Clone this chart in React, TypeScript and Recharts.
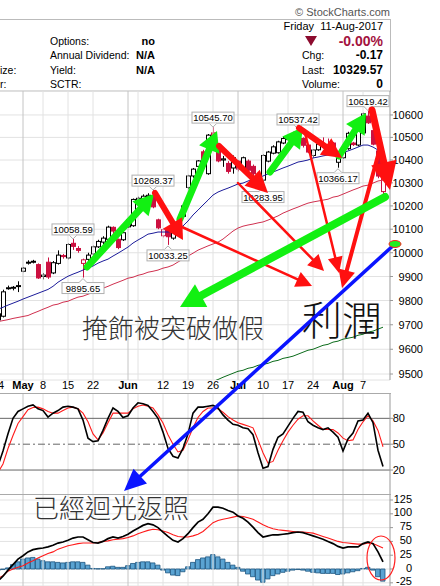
import React from "react";
import {
  ComposedChart,
  Bar,
  Line,
  XAxis,
  YAxis,
  CartesianGrid,
  ReferenceLine,
  ReferenceDot,
} from "recharts";

// trading days shown on the chart
const DATES = [
  "Apr 24", "Apr 25", "Apr 26", "Apr 27", "Apr 28", "May 2", "May 3", "May 4", "May 5", "May 8",
  "May 9", "May 10", "May 11", "May 12", "May 15", "May 16", "May 17", "May 18", "May 19", "May 22",
  "May 23", "May 24", "May 25", "May 26", "May 29", "May 31", "Jun 1", "Jun 2", "Jun 5", "Jun 6",
  "Jun 7", "Jun 8", "Jun 9", "Jun 12", "Jun 13", "Jun 14", "Jun 15", "Jun 16", "Jun 19", "Jun 20",
  "Jun 21", "Jun 22", "Jun 23", "Jun 26", "Jun 27", "Jun 28", "Jun 29", "Jun 30", "Jul 3", "Jul 4",
  "Jul 5", "Jul 6", "Jul 7", "Jul 10", "Jul 11", "Jul 12", "Jul 13", "Jul 14", "Jul 17", "Jul 18",
  "Jul 19", "Jul 20", "Jul 21", "Jul 24", "Jul 25", "Jul 26", "Jul 27", "Jul 28", "Jul 31", "Aug 1",
  "Aug 2", "Aug 3", "Aug 4", "Aug 7", "Aug 8", "Aug 9", "Aug 10", "Aug 11",
];

const OPEN = [
  9720, 9735, 9850, 9852, 9858, 9922, 9956, 9962, 9950, 9900,
  9960, 9915, 9955, 9988, 9978, 10040, 10018, 9955, 9972, 9995,
  10025, 10045, 10057, 10108, 10057, 10055, 10110, 10115, 10225, 10230,
  10240, 10243, 10140, 10072, 10100, 10062, 10080, 10155, 10280, 10330,
  10372, 10436, 10340, 10520, 10458, 10400, 10385, 10365, 10395, 10365,
  10395, 10372, 10330, 10312, 10395, 10430, 10432, 10475, 10490, 10500,
  10520, 10495, 10466, 10420, 10445, 10468, 10455, 10475, 10390, 10410,
  10450, 10475, 10466, 10520, 10595, 10530, 10440, 10262,
];
const HIGH = [
  9760, 9845, 9862, 9860, 9880, 9940, 9968, 9970, 9955, 9915,
  9980, 9965, 10010, 9995, 10040, 10058.59, 10028, 9975, 10000, 10030,
  10055, 10070, 10115, 10112, 10060, 10090, 10145, 10232, 10240, 10250,
  10255, 10268.37, 10145, 10105, 10104, 10092, 10118, 10205, 10335, 10365,
  10400, 10445, 10515, 10545.7, 10465, 10418, 10395, 10420, 10400, 10415,
  10402, 10380, 10340, 10425, 10440, 10465, 10485, 10505, 10515, 10525,
  10537.42, 10500, 10470, 10448, 10480, 10500, 10495, 10480, 10432, 10440,
  10525, 10480, 10535, 10610, 10619.42, 10535, 10442, 10335,
];
const LOW = [
  9700, 9730, 9845, 9842, 9835, 9918, 9950, 9955, 9890, 9888,
  9890, 9910, 9950, 9975, 9972, 10012, 10000, 9895.65, 9962, 9990,
  10020, 10035, 10050, 10065, 10015, 10050, 10105, 10110, 10210, 10218,
  10228, 10190, 10100, 10065, 10033.25, 10055, 10075, 10150, 10272, 10322,
  10365, 10378, 10335, 10498, 10390, 10370, 10340, 10340, 10350, 10360,
  10345, 10330, 10295, 10283.95, 10390, 10425, 10428, 10470, 10485, 10495,
  10500, 10455, 10430, 10410, 10440, 10450, 10440, 10420, 10366.17, 10405,
  10445, 10462, 10460, 10515, 10560, 10465, 10320, 10250,
];
const CLOSE = [
  9745, 9836, 9853, 9855, 9862, 9935, 9960, 9964, 9894, 9906,
  9898, 9958, 9990, 9984, 10035, 10027, 10010, 9970, 9990, 10025,
  10048, 10062, 10109, 10092, 10022, 10085, 10140, 10228, 10233, 10242,
  10246, 10196, 10106, 10098, 10068, 10086, 10112, 10200, 10330, 10360,
  10396, 10386, 10510, 10505, 10396, 10405, 10350, 10410, 10360, 10410,
  10355, 10340, 10305, 10420, 10435, 10458, 10480, 10495, 10505, 10515,
  10510, 10465, 10435, 10444, 10470, 10460, 10445, 10422, 10425, 10435,
  10518, 10468, 10530, 10605, 10565, 10470, 10329.74, 10329.57,
];

// moving averages
const MA_BLUE = [
  9764, 9772, 9781, 9789, 9797, 9806, 9814, 9822, 9830, 9838,
  9846, 9859, 9876, 9889, 9901, 9910, 9918, 9927, 9935, 9944,
  9956, 9965, 9973, 9986, 9998, 10011, 10024, 10041, 10054, 10066,
  10079, 10083, 10088, 10088, 10088, 10092, 10101, 10114, 10135, 10161,
  10182, 10204, 10225, 10247, 10260, 10269, 10277, 10286, 10295, 10299,
  10308, 10317, 10321, 10330, 10339, 10347, 10356, 10365, 10373, 10382,
  10391, 10395, 10400, 10409, 10413, 10418, 10422, 10422, 10426, 10431,
  10440, 10448, 10457, 10466, 10466, 10457, 10444, 10426,
];
const MA_RED = [
  9713, 9717, 9721, 9726, 9730, 9734, 9738, 9747, 9755, 9764,
  9772, 9781, 9785, 9793, 9797, 9806, 9814, 9818, 9826, 9834,
  9842, 9851, 9859, 9868, 9876, 9884, 9893, 9897, 9905, 9910,
  9918, 9922, 9927, 9935, 9940, 9948, 9961, 9973, 9986, 9998,
  10011, 10020, 10029, 10037, 10045, 10058, 10075, 10092, 10105, 10113,
  10118, 10122, 10127, 10131, 10139, 10148, 10157, 10169, 10178, 10187,
  10195, 10204, 10212, 10217, 10221, 10225, 10229, 10238, 10242, 10251,
  10260, 10269, 10277, 10286, 10290, 10299, 10308, 10312,
];
const MA_GREEN = [
  null, null, null, null, null, null, null, null, null, null,
  null, null, null, null, null, null, null, null, null, null,
  null, null, null, null, null, null, null, null, null, null,
  null, null, null, null, null, null, null, null, null, null,
  9450, 9454, 9462, 9470, 9478, 9487, 9495, 9503, 9511, 9515,
  9523, 9527, 9535, 9539, 9543, 9551, 9555, 9563, 9567, 9572,
  9580, 9588, 9596, 9600, 9608, 9616, 9620, 9629, 9633, 9641,
  9645, 9649, 9657, 9661, 9670, 9674, 9682, 9690,
];

const STO_K = [
  25, 42, 62, 80, 88, 91, 94, 95.5, 91, 89,
  81.5, 86, 89, 93, 94, 93, 91, 78, 57, 53,
  54, 66, 80, 92, 88, 81, 83, 92, 98, 97,
  95, 88, 80, 64, 45, 36, 34, 45, 62, 86,
  93, 93, 94, 95, 92, 84, 78, 73, 72, 69,
  68, 61, 40, 22, 24, 44, 58, 62, 71, 80,
  88, 87, 76, 72, 69, 67, 69, 64, 58, 42,
  56, 63, 77, 78, 86, 75, 43, 24,
];
const STO_D = [
  17, 27, 45, 60, 74, 82, 90, 92.5, 93, 91,
  88, 86, 86, 89, 92, 93, 91, 86, 76, 62,
  55, 63, 75, 86, 86, 86, 86, 91, 94, 95.5,
  94, 92, 84, 74.5, 61, 50, 41, 43, 55, 69,
  81, 88, 92, 92, 91, 87, 82, 78, 75, 73,
  71, 69, 55, 40, 28, 30, 43, 54, 64, 72,
  79, 83, 83, 77, 72, 67, 67, 67, 63, 57,
  54, 55, 67, 76, 83, 77, 66, 47,
];

const MACD = [
  -22, -13, -2, 8, 18, 24, 31, 35, 37, 38,
  40, 43, 47, 49, 52, 56, 58, 58, 53, 48,
  47, 50, 55, 58, 56, 59, 63, 69, 74, 79,
  82, 80, 75, 67, 59, 52, 49, 55, 64, 75,
  85, 90, 100, 112, 112, 110, 106, 103, 96, 92,
  85, 76, 66, 58, 60, 62, 62, 63, 64, 66,
  67, 66, 63, 60, 57, 54, 50, 46, 41, 38,
  40, 40, 40, 46, 49, 46, 31, 13,
];
const SIGNAL = [
  -17, -12, -4, 0, 3, 6, 11, 15, 20, 24,
  28, 31, 36, 39, 42, 44, 46, 47, 47, 47,
  48, 50, 51, 53, 54, 55, 57, 60, 64, 67,
  70, 72, 71, 69, 66, 62, 59, 58, 58, 60,
  63, 68, 76, 84, 88, 90, 92, 94, 96, 95,
  93, 90, 85, 80, 76, 73, 71, 70, 69, 68,
  67, 67, 66, 65, 62, 59, 56, 53, 50, 48,
  47, 46, 45, 45, 47, 46, 42, 38,
];
const HIST = [
  -3, -1, 2, 8, 13, 18, 20, 21, 18, 15,
  13, 13, 12, 11, 12, 13, 13, 12, 7, 1,
  0.5, 0.5, 4, 5, 3, 3, 6, 10, 12, 13,
  13, 11, 7, -2, -7, -11, -12, -5, 4, 12,
  17, 20, 22, 26, 22, 18, 12, 7, 3, -4,
  -9, -14, -20, -24, -18, -12, -9, -6, -4, -2,
  -1, -2, -4, -6, -7, -8, -8, -8, -10, -9,
  -7, -5, -3, 1, 3, -2, -14, -22,
];

const PRICE_TICKS = [9500, 9600, 9700, 9800, 9900, 10000, 10100, 10200, 10300, 10400, 10500, 10600];
const STO_TICKS = [20, 50, 80];
const MACD_TICKS = [-25, 0, 25, 50, 75, 100, 125];

const DATE_TICKS = [
  { date: "Apr 24", label: "24", month: false },
  { date: "May 2", label: "May", month: true },
  { date: "May 8", label: "8", month: false },
  { date: "May 15", label: "15", month: false },
  { date: "May 22", label: "22", month: false },
  { date: "Jun 1", label: "Jun", month: true },
  { date: "Jun 12", label: "12", month: false },
  { date: "Jun 19", label: "19", month: false },
  { date: "Jun 26", label: "26", month: false },
  { date: "Jul 3", label: "Jul", month: true },
  { date: "Jul 10", label: "10", month: false },
  { date: "Jul 17", label: "17", month: false },
  { date: "Jul 24", label: "24", month: false },
  { date: "Aug 1", label: "Aug", month: true },
  { date: "Aug 7", label: "7", month: false },
];
const GRID_DATES = [
  "Apr 24", "May 2", "May 8", "May 15", "May 22", "Jun 1", "Jun 5", "Jun 12", "Jun 19",
  "Jun 26", "Jul 3", "Jul 10", "Jul 17", "Jul 24", "Aug 1", "Aug 7",
];
const MONTH_DATES = ["May 2", "Jun 1", "Jul 3", "Aug 1"];

const CALLOUTS = [
  { date: "May 16", value: 10058.59, below: false },
  { date: "May 18", value: 9895.65, below: true },
  { date: "Jun 8", value: 10268.37, below: false },
  { date: "Jun 13", value: 10033.25, below: true },
  { date: "Jun 26", value: 10545.7, below: false },
  { date: "Jul 10", value: 10283.95, below: true },
  { date: "Jul 19", value: 10537.42, below: false },
  { date: "Jul 31", value: 10366.17, below: true },
  { date: "Aug 8", value: 10619.42, below: false },
];

const rows = DATES.map((date, k) => ({
  k,
  date,
  open: OPEN[k],
  high: HIGH[k],
  low: LOW[k],
  close: CLOSE[k],
  prev: k > 0 ? CLOSE[k - 1] : null,
  ma20: MA_BLUE[k],
  ma50: MA_RED[k],
  ma200: MA_GREEN[k],
  stoK: STO_K[k],
  stoD: STO_D[k],
  macd: MACD[k],
  signal: SIGNAL[k],
  hist: HIST[k],
}));

const kOf = (d: string) => DATES.indexOf(d);
const X_DOMAIN = [-5.6, 78.4];
const FONT = "'Liberation Sans', Arial, sans-serif";
const CJK = "'Noto Sans CJK TC', 'Noto Sans CJK SC', sans-serif";
const CANDLE_RED = "#cc1040";
const GRID = "#e2e2e2";
const MARGIN = { top: 0, right: 0, bottom: 0, left: 0 };

const Candle = (props: any) => {
  const { x, y, width, height, payload } = props;
  if (!payload || payload.open == null) return null;
  const { open, high, low, close, prev } = payload;
  const lh = Math.log(high);
  const ll = Math.log(low);
  const py = (p: number) => y + (height * (lh - Math.log(p))) / (lh - ll || 1);
  const cx = Math.round(x + width / 2) + 0.5;
  const color = prev == null || close >= prev ? "#000" : CANDLE_RED;
  const top = py(Math.max(open, close));
  const bot = py(Math.min(open, close));
  return (
    <g>
      <line x1={cx} x2={cx} y1={y} y2={y + height} stroke={color} strokeWidth={1} />
      <rect
        x={cx - 2}
        y={top}
        width={4}
        height={Math.max(1, bot - top)}
        fill={close >= open ? "#fff" : color}
        stroke={color}
        strokeWidth={1}
      />
    </g>
  );
};

const Callout = ({ cx, cy, text, below }: any) => {
  const w = 42;
  const h = 11;
  const edge = below ? cy + 5 : cy - 4;
  const by = below ? edge : edge - h;
  const tip = below ? cy + 1 : cy;
  return (
    <g>
      <rect x={cx - w / 2} y={by} width={w} height={h} fill="#fff" stroke="#b0b0b0" />
      <polygon
        points={`${cx - 4},${edge} ${cx},${tip} ${cx + 4},${edge}`}
        fill="#fff"
        stroke="#b0b0b0"
      />
      <line x1={cx - 3.5} x2={cx + 3.5} y1={edge} y2={edge} stroke="#fff" />
      <text x={cx} y={by + h - 2} textAnchor="middle" fontSize={9.5} fontFamily={FONT} fill="#000">
        {text}
      </text>
    </g>
  );
};

const dateTick = (props: any) => {
  const t = DATE_TICKS.find((d) => kOf(d.date) === props.payload.value);
  if (!t) return <g />;
  return (
    <text
      x={props.x}
      y={298}
      textAnchor="middle"
      fontSize={11}
      fontWeight={t.month ? 700 : 400}
      fontFamily={FONT}
      fill="#000"
    >
      {t.label}
    </text>
  );
};

const rightTick = (anchorX: number, dy: number) => (props: any) => (
  <text x={anchorX} y={props.y + dy} textAnchor="end" fontSize={11} fontFamily={FONT} fill="#000">
    {props.payload.value}
  </text>
);

const gridLines = () =>
  GRID_DATES.map((d) => (
    <ReferenceLine
      key={d}
      x={kOf(d)}
      stroke={MONTH_DATES.includes(d) ? "#c4c4c4" : GRID}
      strokeWidth={1}
    />
  ));

function PriceChart() {
  return (
    <ComposedChart width={470} height={302} data={rows} margin={MARGIN}>
      <CartesianGrid horizontal vertical={false} stroke={GRID} />
      {gridLines()}
      <XAxis
        type="number"
        dataKey="k"
        domain={X_DOMAIN}
        allowDataOverflow
        ticks={DATE_TICKS.map((d) => kOf(d.date))}
        tick={dateTick}
        tickLine={false}
        axisLine={false}
        height={13}
        interval={0}
      />
      <YAxis
        orientation="right"
        scale="log"
        domain={[9476, 10708]}
        allowDataOverflow
        ticks={PRICE_TICKS}
        tick={rightTick(453, 4)}
        tickSize={3}
        tickLine={{ stroke: "#999" }}
        axisLine={{ stroke: "#999" }}
        width={50}
        interval={0}
      />
      <Line dataKey="ma200" stroke="#0b6b1a" strokeWidth={1} dot={false} isAnimationActive={false} />
      <Line dataKey="ma50" stroke="#d0304f" strokeWidth={1} dot={false} isAnimationActive={false} />
      <Line dataKey="ma20" stroke="#1c1c9a" strokeWidth={1} dot={false} isAnimationActive={false} />
      <Bar
        dataKey={(d: any) => [d.low, d.high]}
        barSize={4}
        shape={Candle}
        isAnimationActive={false}
      />
      {CALLOUTS.map((c) => (
        <ReferenceDot
          key={c.date}
          x={kOf(c.date)}
          y={c.value}
          r={0}
          ifOverflow="visible"
          shape={(p: any) => <Callout cx={p.cx} cy={p.cy} text={c.value.toFixed(2)} below={c.below} />}
        />
      ))}
    </ComposedChart>
  );
}

function StochChart() {
  return (
    <ComposedChart width={470} height={101} data={rows} margin={MARGIN}>
      {gridLines()}
      <XAxis type="number" dataKey="k" domain={X_DOMAIN} allowDataOverflow hide />
      <YAxis
        orientation="right"
        domain={[-7.8, 109.4]}
        allowDataOverflow
        ticks={STO_TICKS}
        tick={rightTick(435, 4)}
        tickSize={3}
        tickLine={{ stroke: "#999" }}
        axisLine={{ stroke: "#999" }}
        width={50}
        interval={0}
      />
      <ReferenceLine y={80} stroke="#666" />
      <ReferenceLine y={20} stroke="#666" />
      <ReferenceLine y={50} stroke="#666" strokeDasharray="7 3 2 3" />
      <Line dataKey="stoD" stroke="#ff1a1a" strokeWidth={1.1} dot={false} isAnimationActive={false} />
      <Line dataKey="stoK" stroke="#000" strokeWidth={1.6} dot={false} isAnimationActive={false} />
    </ComposedChart>
  );
}

function MacdChart() {
  return (
    <ComposedChart width={470} height={92} data={rows} margin={MARGIN}>
      <CartesianGrid horizontal vertical={false} stroke={GRID} />
      {gridLines()}
      <XAxis type="number" dataKey="k" domain={X_DOMAIN} allowDataOverflow hide />
      <YAxis
        orientation="right"
        domain={[-30.8, 135.9]}
        allowDataOverflow
        ticks={MACD_TICKS}
        tick={rightTick(442, 2.5)}
        tickSize={3}
        tickLine={{ stroke: "#999" }}
        axisLine={{ stroke: "#999" }}
        width={50}
        interval={0}
      />
      <Bar
        dataKey="hist"
        barSize={5}
        fill="#5aa3d2"
        stroke="#1d5580"
        strokeWidth={0.8}
        isAnimationActive={false}
      />
      <Line dataKey="signal" stroke="#ff1a1a" strokeWidth={1.1} dot={false} isAnimationActive={false} />
      <Line dataKey="macd" stroke="#000" strokeWidth={1.7} dot={false} isAnimationActive={false} />
    </ComposedChart>
  );
}

function Header() {
  const lab = { fontSize: 10.5, fontFamily: FONT, fill: "#000" };
  const val = { fontSize: 11, fontFamily: FONT, fill: "#000", fontWeight: 700 };
  const rval = { fontSize: 12, fontFamily: FONT, fill: "#000", fontWeight: 700 };
  return (
    <svg width={440} height={92} style={{ position: "absolute", left: 0, top: 0 }}>
      <text x={390} y={16} textAnchor="end" fontSize={11} fontFamily={FONT} fill="#555">
        © StockCharts.com
      </text>
      <rect x={-2} y={19.5} width={392.5} height={71.5} fill="none" stroke="#bbb" />
      <text x={383} y={30} textAnchor="end" fontSize={11} fontFamily={FONT} fill="#000">
        {"Friday\u00a0\u00a011-Aug-2017"}
      </text>
      <text x={50} y={45} {...lab}>Options:</text>
      <text x={50} y={59} {...lab}>Annual Dividend:</text>
      <text x={50} y={74} {...lab}>Yield:</text>
      <text x={50} y={88} {...lab}>SCTR:</text>
      <text x={155} y={45} textAnchor="end" {...val}>no</text>
      <text x={155} y={59} textAnchor="end" {...val}>N/A</text>
      <text x={155} y={74} textAnchor="end" {...val}>N/A</text>
      <text x={0} y={74} {...lab}>ize:</text>
      <text x={0} y={88} {...lab}>r:</text>
      <polygon points="305,36 317,36 311,46" fill="#8c0b2e" />
      <text x={383} y={46} textAnchor="end" fontSize={14} fontWeight={700} fontFamily={FONT} fill="#a3123e">
        -0.00%
      </text>
      <text x={302} y={59} {...lab}>Chg:</text>
      <text x={302} y={74} {...lab}>Last:</text>
      <text x={302} y={88} {...lab}>Volume:</text>
      <text x={383} y={59} textAnchor="end" {...rval}>-0.17</text>
      <text x={383} y={74} textAnchor="end" {...rval}>10329.57</text>
      <text x={383} y={88} textAnchor="end" {...rval}>0</text>
    </svg>
  );
}

const GREEN = "#12f012";
const RED = "#ff1010";
const BLUE = "#0a14ff";

const ARROWS = [
  { x1: 182, y1: 227, x2: 312, y2: 286, c: RED, w: 2.5, hl: 16, hw: 16 },
  { x1: 238, y1: 183, x2: 324, y2: 271, c: RED, w: 2.5, hl: 16, hw: 16 },
  { x1: 305, y1: 133, x2: 339, y2: 273, c: RED, w: 2.5, hl: 16, hw: 15 },
  { x1: 380, y1: 148, x2: 342, y2: 288, c: RED, w: 4, hl: 18, hw: 17 },
  { x1: 87, y1: 267, x2: 154, y2: 194, c: GREEN, w: 7, hl: 20, hw: 22 },
  { x1: 180, y1: 219, x2: 217, y2: 131, c: GREEN, w: 7, hl: 20, hw: 22 },
  { x1: 270, y1: 172, x2: 303, y2: 127, c: GREEN, w: 7, hl: 20, hw: 22 },
  { x1: 339, y1: 156, x2: 366, y2: 113, c: GREEN, w: 7, hl: 20, hw: 22 },
  { x1: 385, y1: 197, x2: 180, y2: 307, c: GREEN, w: 8, hl: 24, hw: 26 },
  { x1: 155, y1: 193, x2: 183, y2: 240, c: RED, w: 6, hl: 20, hw: 22 },
  { x1: 219, y1: 146, x2: 268, y2: 193, c: RED, w: 6, hl: 22, hw: 22 },
  { x1: 299, y1: 128, x2: 342, y2: 158, c: RED, w: 6, hl: 20, hw: 20 },
  { x1: 372, y1: 110, x2: 390, y2: 190, c: RED, w: 7, hl: 28, hw: 26 },
  { x1: 396, y1: 243, x2: 124, y2: 491, c: BLUE, w: 3.5, hl: 22, hw: 20 },
];

function Arrow({ x1, y1, x2, y2, c, w, hl, hw }: any) {
  const dx = x2 - x1;
  const dy = y2 - y1;
  const len = Math.hypot(dx, dy);
  const ux = dx / len;
  const uy = dy / len;
  const bx = x2 - ux * hl;
  const by = y2 - uy * hl;
  const px = -uy * (hw / 2);
  const py = ux * (hw / 2);
  return (
    <g>
      <line x1={x1} y1={y1} x2={bx + ux * 2} y2={by + uy * 2} stroke={c} strokeWidth={w} strokeLinecap="round" />
      <polygon points={`${x2},${y2} ${bx + px},${by + py} ${bx - px},${by - py}`} fill={c} />
    </g>
  );
}

function Overlay() {
  return (
    <svg width={440} height={586} style={{ position: "absolute", left: 0, top: 0, pointerEvents: "none" }}>
      <line x1={0} x2={391} y1={393.5} y2={393.5} stroke="#aaa" />
      <line x1={0} x2={391} y1={494.5} y2={494.5} stroke="#aaa" />
      <text x={82} y={338} fontSize={26} fontWeight={300} fontFamily={CJK} fill="#333">
        掩飾被突破做假
      </text>
      <text x={302} y={335} fontSize={40} fontWeight={300} fontFamily={CJK} fill="#111">
        利潤
      </text>
      <text x={33} y={518} fontSize={26} fontWeight={300} fontFamily={CJK} fill="#333">
        已經迴光返照
      </text>
      {ARROWS.map((a, i) => (
        <Arrow key={i} {...a} />
      ))}
      <ellipse cx={395} cy={244} rx={6} ry={3.5} fill="#22ee22" stroke="#ff2020" strokeWidth={1} />
      <ellipse cx={381} cy={558} rx={14} ry={22} fill="none" stroke="#ff2020" strokeWidth={1.2} />
    </svg>
  );
}

export default function App() {
  return (
    <div
      style={{
        position: "absolute",
        left: 0,
        top: 0,
        width: 440,
        height: 586,
        overflow: "hidden",
        background: "#fff",
        fontFamily: FONT,
      }}
    >
      <Header />
      <div style={{ position: "absolute", left: -30, top: 91 }}>
        <PriceChart />
      </div>
      <div style={{ position: "absolute", left: -30, top: 393 }}>
        <StochChart />
      </div>
      <div style={{ position: "absolute", left: -30, top: 494 }}>
        <MacdChart />
      </div>
      <Overlay />
    </div>
  );
}
